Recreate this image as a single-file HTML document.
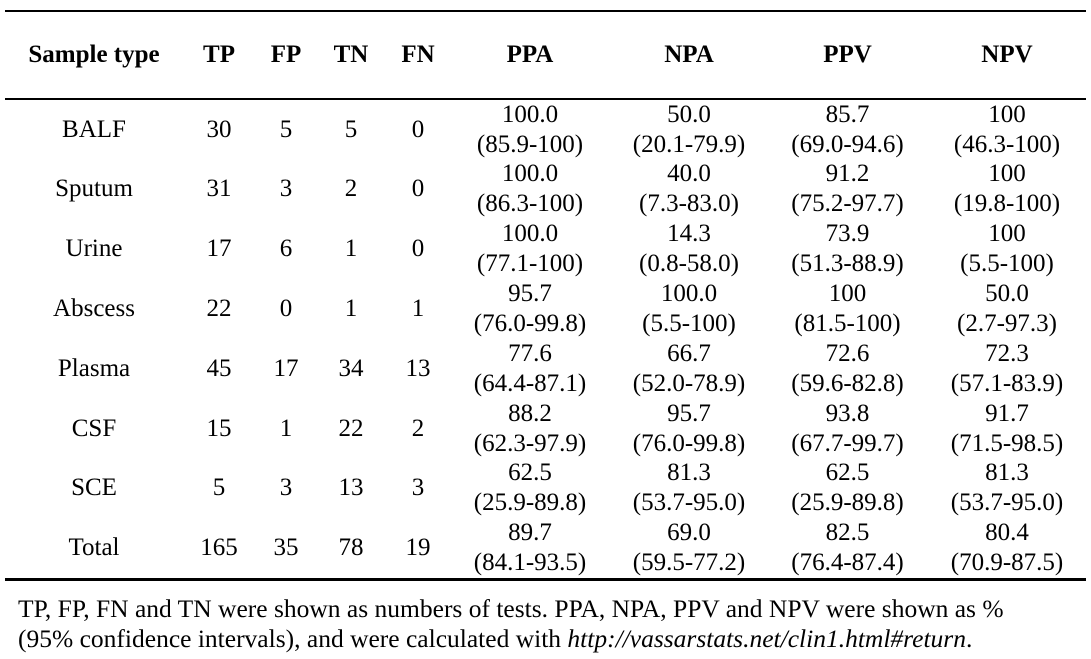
<!DOCTYPE html>
<html>
<head>
<meta charset="utf-8">
<style>
html,body{margin:0;padding:0;background:#fff;}
body{width:1091px;height:659px;position:relative;overflow:hidden;font-family:"Liberation Serif","Times New Roman",serif;color:#000;}
.hl{position:absolute;left:5px;width:1081px;background:#000;}
.r{position:absolute;left:0;width:1091px;height:60px;}
.c{position:absolute;top:0;width:200px;text-align:center;font-size:25px;line-height:30px;white-space:nowrap;}
.s{line-height:60px;}
.h{position:absolute;left:0;top:39.6px;width:1091px;height:30px;font-weight:bold;}
.f{position:absolute;left:18px;top:594px;font-size:25.5px;line-height:29.5px;white-space:nowrap;}
</style>
</head>
<body>
<div class="hl" style="top:9.5px;height:2px"></div>
<div class="hl" style="top:98px;height:2px"></div>
<div class="hl" style="top:578px;height:3px"></div>

<div class="h">
<div class="c" style="left:-6px">Sample type</div>
<div class="c" style="left:119px">TP</div>
<div class="c" style="left:186px">FP</div>
<div class="c" style="left:251px">TN</div>
<div class="c" style="left:318px">FN</div>
<div class="c" style="left:430px">PPA</div>
<div class="c" style="left:589px">NPA</div>
<div class="c" style="left:747.5px">PPV</div>
<div class="c" style="left:907px">NPV</div>
</div>

<div class="r" style="top:99.6px">
<div class="c s" style="left:-6px">BALF</div>
<div class="c s" style="left:119px">30</div>
<div class="c s" style="left:186px">5</div>
<div class="c s" style="left:251px">5</div>
<div class="c s" style="left:318px">0</div>
<div class="c" style="left:430px">100.0<br>(85.9-100)</div>
<div class="c" style="left:589px">50.0<br>(20.1-79.9)</div>
<div class="c" style="left:747.5px">85.7<br>(69.0-94.6)</div>
<div class="c" style="left:907px">100<br>(46.3-100)</div>
</div>

<div class="r" style="top:159.4px">
<div class="c s" style="left:-6px">Sputum</div>
<div class="c s" style="left:119px">31</div>
<div class="c s" style="left:186px">3</div>
<div class="c s" style="left:251px">2</div>
<div class="c s" style="left:318px">0</div>
<div class="c" style="left:430px">100.0<br>(86.3-100)</div>
<div class="c" style="left:589px">40.0<br>(7.3-83.0)</div>
<div class="c" style="left:747.5px">91.2<br>(75.2-97.7)</div>
<div class="c" style="left:907px">100<br>(19.8-100)</div>
</div>

<div class="r" style="top:219.2px">
<div class="c s" style="left:-6px">Urine</div>
<div class="c s" style="left:119px">17</div>
<div class="c s" style="left:186px">6</div>
<div class="c s" style="left:251px">1</div>
<div class="c s" style="left:318px">0</div>
<div class="c" style="left:430px">100.0<br>(77.1-100)</div>
<div class="c" style="left:589px">14.3<br>(0.8-58.0)</div>
<div class="c" style="left:747.5px">73.9<br>(51.3-88.9)</div>
<div class="c" style="left:907px">100<br>(5.5-100)</div>
</div>

<div class="r" style="top:279px">
<div class="c s" style="left:-6px">Abscess</div>
<div class="c s" style="left:119px">22</div>
<div class="c s" style="left:186px">0</div>
<div class="c s" style="left:251px">1</div>
<div class="c s" style="left:318px">1</div>
<div class="c" style="left:430px">95.7<br>(76.0-99.8)</div>
<div class="c" style="left:589px">100.0<br>(5.5-100)</div>
<div class="c" style="left:747.5px">100<br>(81.5-100)</div>
<div class="c" style="left:907px">50.0<br>(2.7-97.3)</div>
</div>

<div class="r" style="top:338.8px">
<div class="c s" style="left:-6px">Plasma</div>
<div class="c s" style="left:119px">45</div>
<div class="c s" style="left:186px">17</div>
<div class="c s" style="left:251px">34</div>
<div class="c s" style="left:318px">13</div>
<div class="c" style="left:430px">77.6<br>(64.4-87.1)</div>
<div class="c" style="left:589px">66.7<br>(52.0-78.9)</div>
<div class="c" style="left:747.5px">72.6<br>(59.6-82.8)</div>
<div class="c" style="left:907px">72.3<br>(57.1-83.9)</div>
</div>

<div class="r" style="top:398.6px">
<div class="c s" style="left:-6px">CSF</div>
<div class="c s" style="left:119px">15</div>
<div class="c s" style="left:186px">1</div>
<div class="c s" style="left:251px">22</div>
<div class="c s" style="left:318px">2</div>
<div class="c" style="left:430px">88.2<br>(62.3-97.9)</div>
<div class="c" style="left:589px">95.7<br>(76.0-99.8)</div>
<div class="c" style="left:747.5px">93.8<br>(67.7-99.7)</div>
<div class="c" style="left:907px">91.7<br>(71.5-98.5)</div>
</div>

<div class="r" style="top:458.4px">
<div class="c s" style="left:-6px">SCE</div>
<div class="c s" style="left:119px">5</div>
<div class="c s" style="left:186px">3</div>
<div class="c s" style="left:251px">13</div>
<div class="c s" style="left:318px">3</div>
<div class="c" style="left:430px">62.5<br>(25.9-89.8)</div>
<div class="c" style="left:589px">81.3<br>(53.7-95.0)</div>
<div class="c" style="left:747.5px">62.5<br>(25.9-89.8)</div>
<div class="c" style="left:907px">81.3<br>(53.7-95.0)</div>
</div>

<div class="r" style="top:518.2px">
<div class="c s" style="left:-6px">Total</div>
<div class="c s" style="left:119px">165</div>
<div class="c s" style="left:186px">35</div>
<div class="c s" style="left:251px">78</div>
<div class="c s" style="left:318px">19</div>
<div class="c" style="left:430px">89.7<br>(84.1-93.5)</div>
<div class="c" style="left:589px">69.0<br>(59.5-77.2)</div>
<div class="c" style="left:747.5px">82.5<br>(76.4-87.4)</div>
<div class="c" style="left:907px">80.4<br>(70.9-87.5)</div>
</div>

<div class="f">TP, FP, FN and TN were shown as numbers of tests. PPA, NPA, PPV and NPV were shown as %<br>(95% confidence intervals), and were calculated with <i>http://vassarstats.net/clin1.html#return</i>.</div>
</body>
</html>
